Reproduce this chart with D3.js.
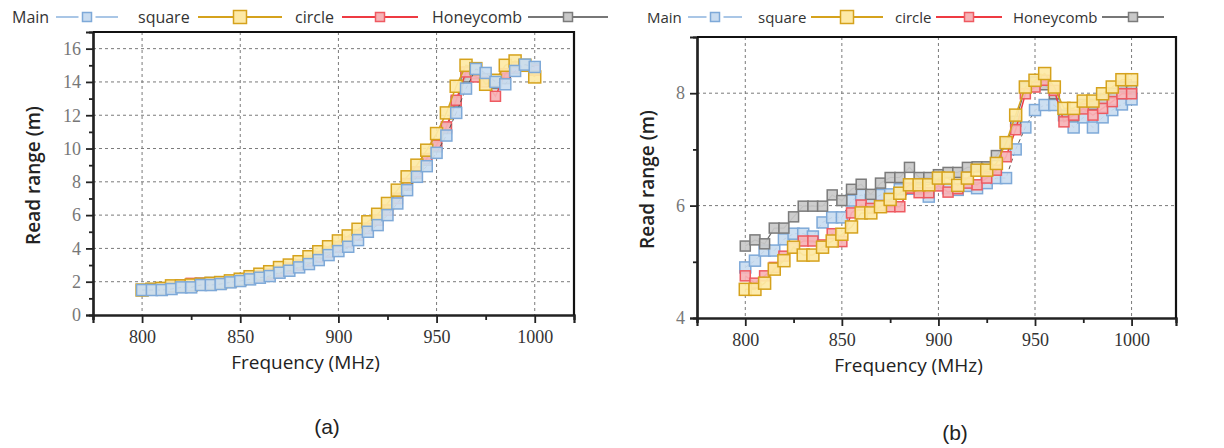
<!DOCTYPE html>
<meta charset="utf-8">
<style>
body { margin: 0; background: #fff; }
svg { display: block; }
.grid line { stroke: #7a7a7a; stroke-width: 1; stroke-dasharray: 3,3; }
.legend text { font-family: "Open Sans", "Noto Sans", sans-serif; fill: #333; }
.title { font-family: "Open Sans", "Noto Sans", sans-serif; fill: #222; }
</style>
<body>
<script src="https://d3js.org/d3.v7.min.js"></script>
<script>

// frequency points (MHz)
var freqs = [800, 805, 810, 815, 820, 825, 830, 835, 840, 845, 850, 855, 860, 865, 870, 875, 880, 885, 890, 895,
             900, 905, 910, 915, 920, 925, 930, 935, 940, 945, 950, 955, 960, 965, 970, 975, 980, 985, 990, 995, 1000];

// panel (a)
var mainA   = [1.5, 1.5, 1.5, 1.56, 1.66, 1.66, 1.8, 1.8, 1.86, 1.96, 2.04, 2.14, 2.24, 2.34, 2.54, 2.66, 2.86, 3.06, 3.3, 3.6,
               3.84, 4.1, 4.5, 5.0, 5.4, 6.0, 6.7, 7.5, 8.3, 8.94, 9.74, 10.78, 12.14, 13.6, 14.78, 14.54, 14.0, 13.86, 14.66, 15.04, 14.9];
var squareA = [1.5, 1.55, 1.6, 1.75, 1.75, 1.8, 1.85, 1.9, 1.95, 2.05, 2.15, 2.3, 2.45, 2.6, 2.85, 3.0, 3.2, 3.5, 3.8, 4.1,
               4.45, 4.75, 5.15, 5.6, 6.05, 6.7, 7.5, 8.3, 9.0, 9.9, 10.9, 12.14, 13.74, 15.0, 14.8, 13.86, 14.1, 15.0, 15.26, 15.0, 14.3];
var circleA = [1.5, 1.55, 1.6, 1.7, 1.8, 1.9, 1.9, 1.9, 1.95, 2.0, 2.1, 2.25, 2.35, 2.45, 2.65, 2.8, 3.0, 3.25, 3.5, 3.8,
               4.1, 4.4, 4.8, 5.2, 5.7, 6.3, 7.0, 7.9, 8.6, 9.4, 10.2, 11.3, 12.9, 14.6, 14.3, 14.0, 13.14, 14.5, 14.9, 15.0, 14.7];
var honeyA  = [1.5, 1.55, 1.6, 1.7, 1.75, 1.85, 1.9, 1.95, 1.95, 2.0, 2.1, 2.2, 2.35, 2.45, 2.6, 2.8, 3.0, 3.2, 3.45, 3.75,
               4.05, 4.4, 4.8, 5.2, 5.7, 6.3, 7.0, 7.8, 8.5, 9.3, 10.1, 11.2, 12.8, 14.3, 14.5, 14.2, 13.9, 14.2, 14.8, 15.0, 14.8];

// panel (b)
var mainB   = [4.9, 5.02, 5.2, 5.2, 5.4, 5.5, 5.5, 5.45, 5.7, 5.79, 5.79, 6.09, 6.19, 6.1, 6.19, 6.2, 6.29, 6.3, 6.3, 6.16,
               6.4, 6.31, 6.28, 6.35, 6.31, 6.4, 6.49, 6.49, 7.0, 7.39, 7.7, 7.79, 7.79, 7.61, 7.39, 7.57, 7.39, 7.57, 7.7, 7.8, 7.89];
var squareB = [4.51, 4.51, 4.62, 4.87, 5.02, 5.26, 5.12, 5.12, 5.26, 5.37, 5.49, 5.62, 5.87, 5.87, 5.98, 6.11, 6.22, 6.37, 6.37, 6.37,
               6.49, 6.49, 6.36, 6.49, 6.63, 6.63, 6.75, 7.12, 7.61, 8.11, 8.23, 8.35, 8.11, 7.73, 7.73, 7.86, 7.86, 7.99, 8.11, 8.24, 8.24];
var circleB = [4.75, 4.62, 4.75, 4.9, 5.1, 5.25, 5.37, 5.37, 5.3, 5.5, 5.36, 5.87, 6.01, 5.95, 6.0, 5.98, 5.98, 6.31, 6.23, 6.23,
               6.35, 6.24, 6.3, 6.4, 6.37, 6.49, 6.63, 6.87, 7.35, 7.99, 8.11, 8.23, 8.05, 7.49, 7.61, 7.72, 7.61, 7.73, 7.85, 7.99, 7.99];
var honeyB  = [5.28, 5.39, 5.32, 5.6, 5.6, 5.8, 5.99, 5.99, 5.99, 6.19, 6.09, 6.29, 6.38, 6.2, 6.4, 6.5, 6.5, 6.68, 6.5, 6.5,
               6.55, 6.59, 6.59, 6.68, 6.69, 6.69, 6.89, 7.1, 7.5, 8.1, 8.2, 8.15, 7.99, 7.6, 7.6, 7.8, 7.8, 7.89, 8.0, 8.11, 8.11];

var seriesNames = ["Main", "square", "circle", "Honeycomb"];
var xMajor = [800, 850, 900, 950, 1000];
var xMinor = [775, 825, 875, 925, 975];
var yMajorA = [0, 2, 4, 6, 8, 10, 12, 14, 16];
var yMinorA = [1, 3, 5, 7, 9, 11, 13, 15];
var yMajorB = [4, 6, 8];
var yMinorB = [5, 7];

// series styles, by name
var styles = {
  "Main":      { line: "#555", dash: "4,3", lw: 1, fill: "#c9dcf0", stroke: "#7ea9d8", size: 11, legLine: "#a9c6e6" },
  "square":    { line: "#d5a21c", dash: null, lw: 1.5, fill: "#fde9a6", stroke: "#d5a21c", size: 12, legLine: "#d5a21c" },
  "circle":    { line: "#ee3a42", dash: null, lw: 1.5, fill: "#f6b3b6", stroke: "#ee5a61", size: 10, legLine: "#ee3a42" },
  "Honeycomb": { line: "#6a6a6a", dash: null, lw: 1.2, fill: "#c9c9c9", stroke: "#7b7b7b", size: 10, legLine: "#777" }
};

var svg = d3.select("body").append("svg")
  .attr("width", 1224)
  .attr("height", 448);

function drawPanel(p) {
  var x = d3.scaleLinear().domain(p.xDomain).range([p.left, p.right]);
  var y = d3.scaleLinear().domain(p.yDomain).range([p.bottom, p.top]);
  var g = svg.append("g");

  // grid
  var grid = g.append("g").attr("class", "grid");
  grid.selectAll(".gx").data(xMajor).enter().append("line")
    .attr("x1", d => x(d)).attr("x2", d => x(d))
    .attr("y1", p.top).attr("y2", p.bottom);
  grid.selectAll(".gy").data(p.yMajor.filter(d => d > p.yDomain[0])).enter().append("line")
    .attr("x1", p.left).attr("x2", p.right)
    .attr("y1", d => y(d)).attr("y2", d => y(d));

  // series
  p.order.forEach(function(name) {
    var vals = p.data[name];
    var st = styles[name];
    var pts = freqs.map((f, i) => [f, vals[i]]);
    var line = d3.line().x(d => x(d[0])).y(d => y(d[1]));
    g.append("path")
      .attr("d", line(pts))
      .attr("fill", "none")
      .attr("stroke", st.line)
      .attr("stroke-width", st.lw)
      .attr("stroke-dasharray", st.dash);
    g.selectAll(null).data(pts).enter().append("rect")
      .attr("x", d => x(d[0]) - st.size / 2)
      .attr("y", d => y(d[1]) - st.size / 2)
      .attr("width", st.size).attr("height", st.size)
      .attr("fill", st.fill).attr("fill-opacity", 0.92)
      .attr("stroke", st.stroke).attr("stroke-width", 1.5);
  });

  // axes
  var xAxis = d3.axisBottom(x).tickValues(xMajor).tickSize(8).tickPadding(7).tickFormat(d3.format("d"));
  var gx = g.append("g").attr("transform", "translate(0," + p.bottom + ")").call(xAxis);
  gx.selectAll("text").attr("font-size", 18).attr("fill", "#333")
    .attr("font-family", "Liberation Serif, serif");
  var xMin = d3.axisBottom(x).tickValues(xMinor).tickSize(5).tickFormat("");
  g.append("g").attr("transform", "translate(0," + p.bottom + ")").call(xMin);

  var yAxis = d3.axisLeft(y).tickValues(p.yMajor).tickSize(7).tickPadding(5).tickFormat(d3.format("d"));
  var gy = g.append("g").attr("transform", "translate(" + p.left + ",0)").call(yAxis);
  gy.selectAll("text").attr("font-size", 18).attr("fill", "#777")
    .attr("font-family", "Liberation Serif, serif");
  var yMin = d3.axisLeft(y).tickValues(p.yMinor).tickSize(4).tickFormat("");
  g.append("g").attr("transform", "translate(" + p.left + ",0)").call(yMin);

  g.selectAll(".domain").attr("stroke", "#222").attr("stroke-width", 2.2);
  g.selectAll(".tick line").attr("stroke", "#222").attr("stroke-width", 1.8);

  // top and right frame
  g.append("path")
    .attr("d", "M" + p.left + "," + p.top + "H" + p.right + "V" + p.bottom)
    .attr("fill", "none").attr("stroke", "#111").attr("stroke-width", 2.2);

  // titles
  g.append("text").attr("class", "title")
    .attr("x", (p.left + p.right) / 2 - 28).attr("y", p.bottom + 54)
    .attr("text-anchor", "middle").attr("font-size", 19)
    .text("Frequency (MHz)");
  g.append("text").attr("class", "title")
    .attr("transform", "translate(" + p.yTitleX + "," + ((p.top + p.bottom) / 2 + 2) + ") rotate(-90)")
    .attr("text-anchor", "middle").attr("font-size", 19).attr("font-weight", 600)
    .text("Read range (m)");
  g.append("text")
    .attr("x", p.capX).attr("y", p.capY)
    .attr("text-anchor", "middle")
    .attr("font-family", "Liberation Sans, Arial, sans-serif").attr("font-size", 21).attr("fill", "#222")
    .text(p.caption);

  // legend
  var lg = svg.append("g").attr("class", "legend");
  p.legend.forEach(function(it, i) {
    var st = styles[seriesNames[i]];
    lg.append("text").attr("x", it.tx).attr("y", 23).attr("font-size", p.legendSize).text(seriesNames[i]);
    var cx = it.sx;
    var half = it.w / 2;
    var gap = seriesNames[i] === "Main" ? 4 : 0;
    var sz = seriesNames[i] === "square" ? 13 : 9;
    lg.append("line").attr("x1", cx - half).attr("x2", cx - sz / 2 - gap)
      .attr("y1", 17).attr("y2", 17).attr("stroke", st.legLine).attr("stroke-width", 2);
    lg.append("line").attr("x1", cx + sz / 2 + gap).attr("x2", cx + half)
      .attr("y1", 17).attr("y2", 17).attr("stroke", st.legLine).attr("stroke-width", 2);
    lg.append("rect").attr("x", cx - sz / 2).attr("y", 17 - sz / 2)
      .attr("width", sz).attr("height", sz)
      .attr("fill", st.fill).attr("stroke", st.stroke).attr("stroke-width", 1.5);
  });
}

drawPanel({
  left: 93, right: 574, top: 32, bottom: 315,
  xDomain: [775, 1020], yDomain: [0, 17],
  yMajor: yMajorA, yMinor: yMinorA,
  data: { "Main": mainA, "square": squareA, "circle": circleA, "Honeycomb": honeyA },
  order: ["Honeycomb", "circle", "square", "Main"],
  yTitleX: 40, caption: "(a)", capX: 327, capY: 434, legendSize: 16,
  legend: [{ tx: 12, sx: 87, w: 62 }, { tx: 138, sx: 240, w: 84 }, { tx: 295, sx: 380, w: 76 }, { tx: 432, sx: 568, w: 80 }]
});

drawPanel({
  left: 697, right: 1176, top: 37, bottom: 318,
  xDomain: [775, 1023], yDomain: [4, 9],
  yMajor: yMajorB, yMinor: yMinorB,
  data: { "Main": mainB, "square": squareB, "circle": circleB, "Honeycomb": honeyB },
  order: ["Main", "Honeycomb", "circle", "square"],
  yTitleX: 654, caption: "(b)", capX: 955, capY: 440, legendSize: 15,
  legend: [{ tx: 647, sx: 715, w: 54 }, { tx: 758, sx: 847, w: 72 }, { tx: 895, sx: 969, w: 66 }, { tx: 1013, sx: 1133, w: 62 }]
});

</script>
</body>
